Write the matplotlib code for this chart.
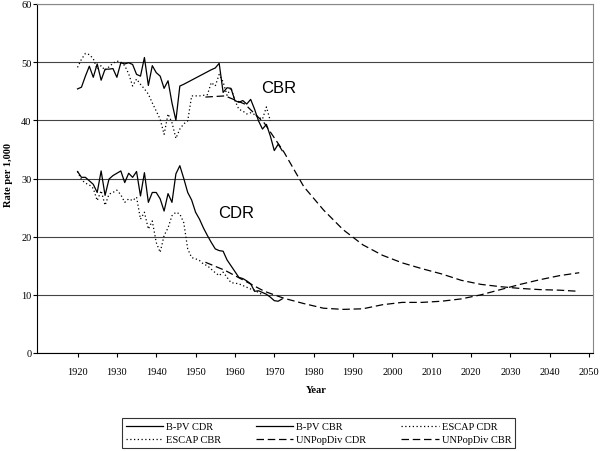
import matplotlib
matplotlib.use('Agg')
import matplotlib.pyplot as plt

# --- data ---
bpv_cbr_years = list(range(1920, 1948)) + list(range(1954, 1973))
bpv_cbr = [45.4, 45.7, 47.6, 49.3, 47.4, 49.7, 46.9, 48.8, 48.8, 48.9,
           47.4, 49.9, 49.7, 49.9, 49.6, 47.9, 47.6, 50.8, 46.0, 49.4,
           48.2, 47.6, 45.5, 46.8, 43.0, 40.0, 45.9, 46.2,
           48.7, 49.0, 49.8, 44.8, 45.6, 45.5, 43.4, 43.1, 43.4, 42.8,
           43.6, 41.9, 39.9, 38.5, 39.3, 37.3, 34.8, 35.9, 34.8]

bpv_cdr_years = list(range(1920, 1973))
bpv_cdr = [31.2, 30.2, 30.2, 29.6, 29.0, 27.6, 31.3, 27.1, 29.9, 30.5,
           30.9, 31.3, 29.3, 30.9, 30.2, 31.2, 27.0, 31.0, 25.9, 27.6,
           27.6, 26.5, 24.4, 27.4, 25.9, 30.8, 32.2, 30.0, 27.6, 26.3,
           24.2, 23.0, 21.5, 20.2, 19.0, 17.9, 17.6, 17.5, 16.0, 15.0,
           14.0, 13.0, 12.8, 12.4, 11.9, 10.6, 10.7, 10.4, 10.1, 9.6,
           9.0, 8.9, 9.3]

escap_cbr_years = list(range(1920, 1970))
escap_cbr = [49.1, 50.5, 51.5, 51.3, 50.6, 48.8, 49.4, 48.6, 49.2, 49.8,
             50.2, 50.0, 49.4, 48.0, 45.9, 47.1, 46.2, 45.4, 44.5, 43.0,
             41.6, 40.2, 37.6, 41.1, 39.6, 36.9, 38.5, 39.4, 39.9, 44.2,
             44.2, 44.2, 44.3, 44.4, 46.5, 45.9, 47.9, 46.6, 44.3, 45.6,
             43.4, 41.9, 41.6, 41.1, 41.3, 41.0, 40.5, 40.2, 42.3, 39.9]

escap_cdr_years = list(range(1920, 1968))
escap_cdr = [31.2, 29.8, 29.2, 28.9, 28.3, 26.2, 27.9, 25.4, 27.3, 27.6,
             28.0, 27.2, 25.9, 26.5, 26.2, 26.8, 23.0, 24.2, 21.3, 22.7,
             19.0, 17.3, 20.2, 21.5, 23.6, 24.2, 23.9, 22.4, 17.9, 16.4,
             16.2, 15.9, 15.3, 15.0, 14.4, 13.8, 13.3, 13.9, 13.0, 12.1,
             12.0, 11.9, 11.6, 11.3, 11.0, 10.8, 10.4, 10.0]

un_years = [1952.5, 1957.5, 1962.5, 1967.5, 1972.5, 1977.5, 1982.5, 1987.5,
            1992.5, 1997.5, 2002.5, 2007.5, 2012.5, 2017.5, 2022.5, 2027.5,
            2032.5, 2037.5, 2042.5, 2047.5]
un_cdr = [15.6, 14.2, 12.4, 10.6, 9.4, 8.5, 7.7, 7.5, 7.6, 8.3,
          8.7, 8.7, 8.9, 9.3, 10.0, 10.9, 11.8, 12.6, 13.3, 13.8]
un_cbr = [44.0, 44.2, 42.8, 39.5, 34.5, 28.6, 24.6, 21.2, 18.6, 16.8,
          15.5, 14.5, 13.6, 12.5, 11.8, 11.4, 11.1, 10.9, 10.8, 10.6]

xticks = list(range(1920, 2051, 10))
yticks = [0, 10, 20, 30, 40, 50, 60]

serif = 'Liberation Serif'
sans = 'Liberation Sans'

fig = plt.figure(figsize=(6, 4.52), dpi=100)
ax = fig.add_axes([37/600, 1 - 354/452, (593 - 37)/600, (354 - 5)/452])

dotted = (0, (1, 2))
dashed = (0, (6, 3))
lw = 0.9

l1, = ax.plot(bpv_cdr_years, bpv_cdr, color='black', lw=lw, label='B-PV CDR')
l2, = ax.plot(bpv_cbr_years, bpv_cbr, color='black', lw=lw, label='B-PV CBR')
l3, = ax.plot(escap_cdr_years, escap_cdr, color='black', lw=lw, ls=dotted, label='ESCAP CDR')
l4, = ax.plot(escap_cbr_years, escap_cbr, color='black', lw=lw, ls=dotted, label='ESCAP CBR')
l5, = ax.plot(un_years, un_cdr, color='black', lw=lw, ls=dashed, label='UNPopDiv CDR')
l6, = ax.plot(un_years, un_cbr, color='black', lw=lw, ls=dashed, label='UNPopDiv CBR')

ax.set_xlim(1909.7, 2051)
ax.set_ylim(0, 60)
ax.set_xticks(xticks)
ax.set_yticks(yticks)
ax.yaxis.grid(True, color='#444444', lw=0.8)
ax.set_axisbelow(True)
for lab in ax.get_xticklabels() + ax.get_yticklabels():
    lab.set_fontfamily(serif)
    lab.set_fontsize(7.5)
ax.tick_params(axis='x', direction='out', length=3, width=0.8, pad=7)
ax.tick_params(axis='y', direction='out', length=3, width=0.8, pad=1)
ax.spines['left'].set_color('black')
ax.spines['bottom'].set_color('black')
ax.spines['top'].set_color('#888888')
ax.spines['right'].set_color('#888888')
for s in ax.spines.values():
    s.set_linewidth(0.8)

ax.text(1971, 45.7, 'CBR', family=sans, fontsize=12, ha='center', va='center')
ax.text(1960.3, 24.2, 'CDR', family=sans, fontsize=12, ha='center', va='center')

fig.text(316/600, 1 - 391/452, 'Year', family=serif, fontweight='bold',
         fontsize=7.5, ha='center', va='center')
fig.text(9/600, 1 - 175/452, 'Rate per 1,000', family=serif, fontweight='bold',
         fontsize=7.5, ha='center', va='center', rotation=90)

# legend fills column-first, so order handles to read row-wise like the original
handles = [l1, l4, l2, l5, l3, l6]
leg = fig.legend(handles, [h.get_label() for h in handles], loc='lower left',
                 bbox_to_anchor=(122/600, 1 - 449/452, 393/600, 35/452),
                 mode='expand', ncol=3,
                 prop={'family': serif, 'size': 7.5}, frameon=True, fancybox=False,
                 edgecolor='black', handlelength=3.6, handletextpad=0.3,
                 columnspacing=0.5, labelspacing=0.35, borderpad=0.35,
                 borderaxespad=0)
leg.get_frame().set_linewidth(0.8)

fig.savefig('out.png', dpi=100)
